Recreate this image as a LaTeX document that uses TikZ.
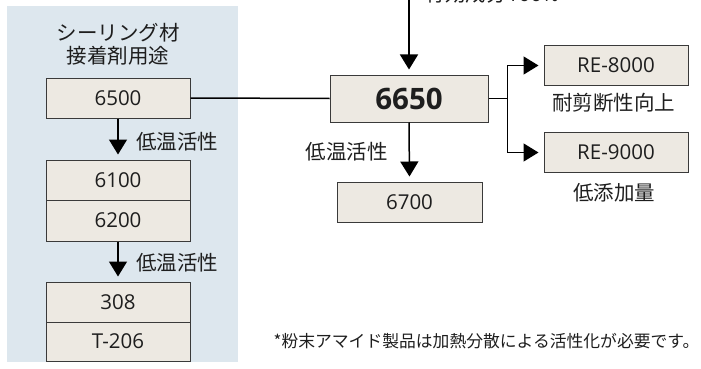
\documentclass[tikz,border=0pt]{standalone}
\usepackage{fontspec}
\setmainfont{Open Sans}
\newfontfamily\jp{Noto Sans CJK JP}
\usetikzlibrary{arrows.meta}
\definecolor{panelbg}{HTML}{DDE7EE}
\definecolor{boxbg}{HTML}{EDE9E2}
\definecolor{boxline}{HTML}{3A3A3A}
\definecolor{txt}{HTML}{1E1E1E}
\tikzset{
  prod/.style={draw=boxline, line width=1pt, fill=boxbg, minimum width=144pt, minimum height=40pt, inner sep=0pt, text=txt, font=\fontsize{20.5}{22}\selectfont},
  lbl/.style={text=txt, inner sep=0pt, font=\jp\fontsize{20.5}{24}\selectfont},
  conn/.style={line width=1.5pt, black},
  arr/.style={conn, -{Triangle[width=18pt,length=15pt]}, shorten >=5pt},
}
\begin{document}
\begin{tikzpicture}[x=1pt,y=-1pt]
\useasboundingbox (0,0) rectangle (701,369);
\clip (0,0) rectangle (701,369);
% panel
\fill[panelbg] (7,6) rectangle (238,362);
\node[lbl] (t1) at (118,33) {シーリング材};
\node[lbl] (t2) at (118,56) {接着剤用途};
% left column
\node[prod] (b6500) at (118,98) {6500};
\node[prod] (b6100) at (118,180) {6100};
\node[prod, minimum height=41pt] (b6200) at (118,220.5) {6200};
\node[prod] (b308) at (118,302) {308};
\node[prod, minimum height=39pt] (bT206) at (118,341.5) {T-206};
\draw[arr] (b6500.south) -- (b6100.north);
\draw[arr] (b6200.south) -- (b308.north);
\node[lbl] (l1) at (177,142) {低温活性};
\node[lbl] (l2) at (177,263) {低温活性};
% center
\node[prod, minimum width=158pt, minimum height=47pt, font=\bfseries\fontsize{29.5}{32}\selectfont] (b6650) at (409,98.5) {6650};
\node[prod, minimum width=145pt] (b6700) at (409.5,202) {6700};
\node[text=txt, inner sep=0pt, font=\fontsize{20.5}{24}\selectfont] (ttop) at (492,-6) {{\jp 有効成分}100\%};
\coordinate (topin) at (409,-10);
\draw[arr] (topin) -- (b6650.north);
\draw[conn] (b6500.east) -- (b6650.west);
\draw[arr] (b6650.south) -- (b6700.north);
\node[lbl] (l3) at (346.5,152) {低温活性};
% right
\node[prod] (bRE8) at (616,65.5) {RE-8000};
\node[prod] (bRE9) at (616,152.5) {RE-9000};
\draw[conn] (b6650.east) -- ++(19,0) coordinate (br);
\draw[arr] (br) |- (bRE8.west);
\draw[arr] (br) |- (bRE9.west);
\node[lbl] (l4) at (613.5,103) {耐剪断性向上};
\node[lbl] (l5) at (614,193) {低添加量};
% footnote
\node[text=txt, inner sep=0pt, font=\jp\fontsize{16.8}{20}\selectfont] (fn) at (486.5,341) {*粉末アマイド製品は加熱分散による活性化が必要です。};
\end{tikzpicture}
\end{document}
